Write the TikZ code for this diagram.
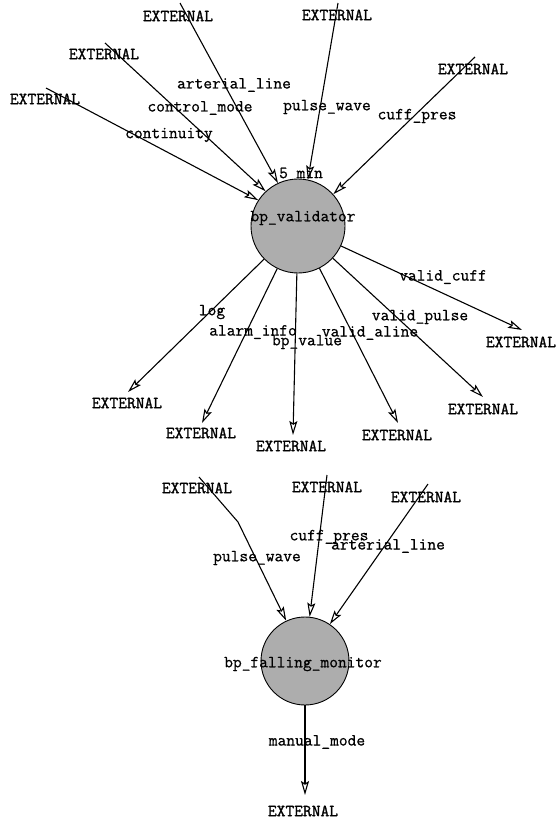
\documentclass[tikz,border=0pt]{standalone}
\usepackage{fontspec}
\usetikzlibrary{arrows.meta}
\newfontfamily\dfdfont{Latin Modern Mono}[FakeBold=0.8]
\newfontfamily\extfont{Latin Modern Mono}[FakeBold=1.4]
\begin{document}
\begin{tikzpicture}[x=1pt,y=-1pt,
  every node/.style={font=\fontsize{17}{19}\selectfont\dfdfont, inner sep=0pt},
  ext/.style={font=\fontsize{17}{19}\selectfont\extfont},
  flow/.style={line width=1.1pt, -{Stealth[open,length=14pt,width=8pt,inset=2.5pt]}},
  proc/.style={circle, draw, line width=0.9pt, fill=black!32, minimum size=94pt}]
\useasboundingbox (0,0) rectangle (558,820);

% ---------- bp_validator ----------
\node[proc] (val) at (298,226) {};

\coordinate (s1) at (46,88);
\coordinate (s2) at (105,43);
\coordinate (s3) at (180,3);
\coordinate (s4) at (338,3);
\coordinate (s5) at (475,57);

\coordinate (o1) at (522,330);
\coordinate (o2) at (483,397);
\coordinate (o3) at (398,423);
\coordinate (o4) at (293,435);
\coordinate (o5) at (202,423);
\coordinate (o6) at (128,392);

\draw[flow] (s1) -- (val.147);
\draw[flow] (s2) -- (val.133);
\draw[flow] (s3) -- (val.115);
\draw[flow] (s4) -- (val.78);
\draw[flow] (s5) -- (val.42);

\draw[flow] (val) -- (o1);
\draw[flow] (val) -- (o2);
\draw[flow] (val) -- (o3);
\draw[flow] (val) -- (o4);
\draw[flow] (val) -- (o5);
\draw[flow] (val) -- (o6);

\node (valname) at (303,218) {bp\_validator};
\node (timer) at (301,173) {5 min};

\node[ext] (x1) at (45,99) {EXTERNAL};
\node[ext] (x2) at (104,54) {EXTERNAL};
\node[ext] (x3) at (178,16) {EXTERNAL};
\node[ext] (x4) at (337,15) {EXTERNAL};
\node[ext] (x5) at (473,69) {EXTERNAL};

\node (f1) at (169,135) {continuity};
\node (f2) at (200,108) {control\_mode};
\node (f3) at (234,85) {arterial\_line};
\node (f4) at (327,107) {pulse\_wave};
\node (f5) at (417,116) {cuff\_pres};

\node[ext] (y1) at (521,342) {EXTERNAL};
\node[ext] (y2) at (483,409) {EXTERNAL};
\node[ext] (y3) at (397,435) {EXTERNAL};
\node[ext] (y4) at (291,446) {EXTERNAL};
\node[ext] (y5) at (201,433) {EXTERNAL};
\node[ext] (y6) at (127,403) {EXTERNAL};

\node (g1) at (443,277) {valid\_cuff};
\node (g2) at (420,317) {valid\_pulse};
\node (g3) at (370,333) {valid\_aline};
\node (g4) at (307,342) {bp\_value};
\node (g5) at (253,332) {alarm\_info};
\node (g6) at (212,312) {log};

% ---------- bp_falling_monitor ----------
\node[proc, minimum size=88pt] (mon) at (305,661) {};

\coordinate (t1) at (199,477);
\coordinate (t1b) at (238,522);
\coordinate (t2) at (327,475);
\coordinate (t3) at (428,484);
\coordinate (u1) at (305,795);

\draw[flow] (t1) -- (t1b) -- (mon.115);
\draw[flow] (t2) -- (mon.84);
\draw[flow] (t3) -- (mon.56);
\draw[flow] (mon) -- (u1);

\node (monname) at (303,664) {bp\_falling\_monitor};

\node[ext] (z1) at (197,488) {EXTERNAL};
\node[ext] (z2) at (327,487) {EXTERNAL};
\node[ext] (z3) at (426,497) {EXTERNAL};
\node[ext] (z4) at (303,811) {EXTERNAL};

\node (h1) at (257,558) {pulse\_wave};
\node (h2) at (329,537) {cuff\_pres};
\node (h3) at (388,546) {arterial\_line};
\node (h4) at (317,742) {manual\_mode};
\end{tikzpicture}
\end{document}
